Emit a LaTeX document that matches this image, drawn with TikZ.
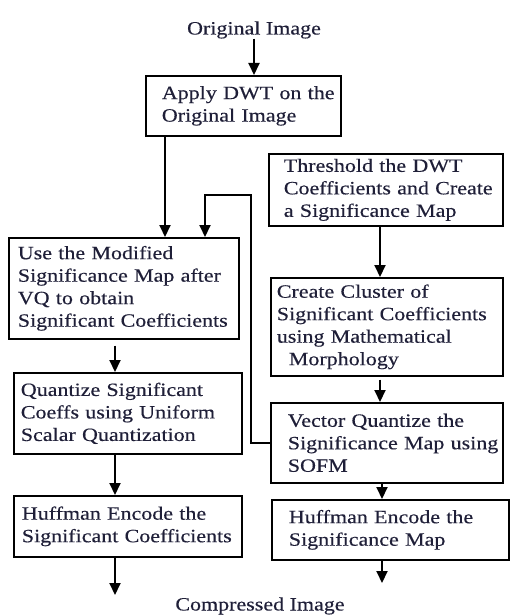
\documentclass[tikz,border=0pt]{standalone}
\usepackage{fontspec}
\setmainfont[FakeStretch=1.17,FakeBold=0.35]{Liberation Serif}
\usetikzlibrary{arrows.meta}
\definecolor{ink}{rgb}{0.12,0.12,0.22}
\newcommand\keepline[1]{\mbox{#1}}
\begin{document}
\begin{tikzpicture}[x=1pt,y=-1pt,
  box/.style={draw, line width=1.7pt, anchor=north west, inner ysep=0pt, align=left,
    font=\fontsize{18.8}{22.5}\selectfont, text=ink},
  lbl/.style={font=\fontsize{18.8}{22.5}\selectfont, text=ink, inner sep=0pt},
  arr/.style={line width=2pt, -{Triangle[width=11pt,length=12pt]}}]
\useasboundingbox (0,0) rectangle (516,615);

\node[lbl] (orig) at (254,30) {Original Image};
\node[box, inner xsep=16pt, text width=163pt, minimum height=60pt] (dwt) at (145,75)
  {\keepline{Apply DWT on the}\\\keepline{Original Image}};
\node[box, inner xsep=15pt, text width=204pt, minimum height=72pt] (thr) at (268,153)
  {\keepline{Threshold the DWT}\\\keepline{Coefficients and Create}\\\keepline{a Significance Map}};
\node[box, inner xsep=9pt, text width=212pt, minimum height=101pt] (use) at (8,237)
  {\keepline{Use the Modified}\\\keepline{Significance Map after}\\\keepline{VQ to obtain}\\\keepline{Significant Coefficients}};
\node[box, inner xsep=6pt, text width=220pt, minimum height=98pt] (cl) at (270,277)
  {\keepline{Create Cluster of}\\\keepline{Significant Coefficients}\\\keepline{using Mathematical}\\\keepline{\hspace*{12pt}Morphology}};
\node[box, inner xsep=7pt, text width=214pt, minimum height=81pt] (qz) at (13,372)
  {\keepline{Quantize Significant}\\\keepline{Coeffs using Uniform}\\\keepline{Scalar Quantization}};
\node[box, inner xsep=17pt, text width=198pt, minimum height=80pt] (vq) at (270,402)
  {\keepline{Vector Quantize the}\\\keepline{Significance Map using}\\\keepline{SOFM}};
\node[box, inner xsep=8pt, text width=212pt, minimum height=61pt] (hl) at (13,495)
  {\keepline{Huffman Encode the}\\\keepline{Significant Coefficients}};
\node[box, inner xsep=17pt, text width=203pt, minimum height=60pt] (hr) at (271,499)
  {\keepline{Huffman Encode the}\\\keepline{Significance Map}};
\node[lbl] (comp) at (260,606) {Compressed Image};

\coordinate (fbturn) at (205,195);
\coordinate (hlend) at (115,595);
\coordinate (hrend) at (382,583);

\draw[arr] (orig) -- (orig |- dwt.north);
\draw[arr] ([xshift=20pt]dwt.south west) -- ([xshift=20pt]dwt.south west |- use.north);
\draw[arr] (vq.west) -| ([xshift=-19pt]vq.west |- fbturn) -- (fbturn) -- (fbturn |- use.north);
\draw[arr] ([xshift=112pt]thr.south west) -- ([xshift=112pt]thr.south west |- cl.north);
\draw[arr, shorten <=6pt] ([xshift=107pt]use.south west) -- ([xshift=107pt]use.south west |- qz.north);
\draw[arr] ([xshift=102pt]qz.south west) -- ([xshift=102pt]qz.south west |- hl.north);
\draw[arr, shorten <=3pt] ([xshift=110pt]cl.south west) -- ([xshift=110pt]cl.south west |- vq.north);
\draw[arr] ([xshift=112pt]vq.south west) -- ([xshift=112pt]vq.south west |- hr.north);
\draw[arr] (hl.south -| hlend) -- (hlend);
\draw[arr] (hr.south -| hrend) -- (hrend);
\end{tikzpicture}
\end{document}
